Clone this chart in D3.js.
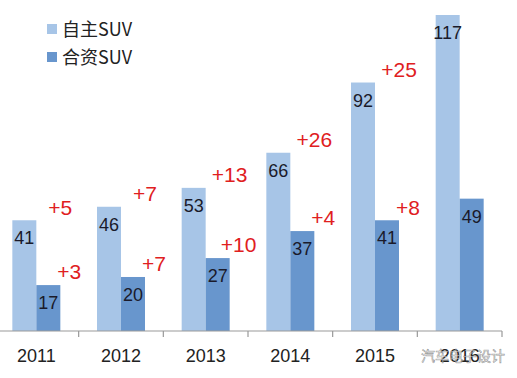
<!DOCTYPE html>
<html>
<head>
<meta charset="utf-8">
<script src="https://cdn.jsdelivr.net/npm/d3@7"></script>
<style>
  body { margin: 0; background: #fff; }
  svg { display: block; font-family: Arial, "Liberation Sans", sans-serif; }
</style>
</head>
<body>
<div id="chart"></div>
<script>
// data
var years = ['2011', '2012', '2013', '2014', '2015', '2016'];
var seriesNames = ['自主SUV', '合资SUV'];
var domestic = [41, 46, 53, 66, 92, 117];
var joint = [17, 20, 27, 37, 41, 49];

var width = 517, height = 378;
var colors = ['#a7c5e7', '#6896cd'];
var baseY = 331;

var svg = d3.select('#chart').append('svg')
    .attr('width', width)
    .attr('height', height);

var x = d3.scaleBand().domain(years).range([-6, 502]);
var y = d3.scaleLinear().domain([0, 117]).range([baseY, 15]);

var barW = 24;

// bars
var series = [domestic, joint];
series.forEach(function (vals, s) {
    var g = svg.append('g');
    g.selectAll('rect')
        .data(vals)
        .join('rect')
        .attr('x', function (d, i) { return x(years[i]) + x.bandwidth() / 2 - barW + s * barW; })
        .attr('y', function (d) { return y(d); })
        .attr('width', barW)
        .attr('height', function (d) { return baseY - y(d); })
        .style('fill', colors[s]);

    g.selectAll('text')
        .data(vals)
        .join('text')
        .attr('x', function (d, i) { return x(years[i]) + x.bandwidth() / 2 - barW / 2 + s * barW; })
        .attr('y', function (d) { return y(d) + 24; })
        .attr('text-anchor', 'middle')
        .style('font-size', '18px')
        .style('fill', '#1a1a2a')
        .text(function (d) { return d; });

    // growth labels
    var deltas = vals.slice(1).map(function (d, i) { return d - vals[i]; });
    g.selectAll('text.delta')
        .data(deltas)
        .join('text')
        .attr('class', 'delta')
        .attr('x', function (d, i) { return x(years[i]) + x.bandwidth() / 2 + (s == 0 ? 24 : 33); })
        .attr('y', function (d, i) { return y(vals[i]) - 13; })
        .attr('dy', '0.35em')
        .attr('text-anchor', 'middle')
        .style('font-size', '21px')
        .style('fill', '#e0201e')
        .text(function (d) { return '+' + d; });
});

// axis
var axis = svg.append('g')
    .attr('transform', 'translate(0,' + baseY + ')');
axis.append('line')
    .attr('x1', 0).attr('x2', 502)
    .style('stroke', '#999').style('stroke-width', 1.2);
axis.selectAll('line.tick')
    .data(years)
    .join('line')
    .attr('class', 'tick')
    .attr('x1', function (d) { return x(d) + x.bandwidth(); })
    .attr('x2', function (d) { return x(d) + x.bandwidth(); })
    .attr('y1', 0).attr('y2', 6)
    .style('stroke', '#999').style('stroke-width', 1.2);
axis.selectAll('text')
    .data(years)
    .join('text')
    .attr('x', function (d) { return x(d) + x.bandwidth() / 2; })
    .attr('y', 31)
    .attr('text-anchor', 'middle')
    .style('font-size', '18px')
    .style('fill', '#222')
    .text(function (d) { return d; });

// legend
var legend = svg.append('g');
seriesNames.forEach(function (name, i) {
    legend.append('rect')
        .attr('x', 47).attr('y', 24 + i * 28)
        .attr('width', 10).attr('height', 10)
        .style('fill', colors[i]);
    legend.append('text')
        .attr('x', 62).attr('y', 36 + i * 28)
        .style('font-family', '"Noto Sans CJK SC", sans-serif')
        .style('font-size', '18px')
        .style('fill', '#222')
        .text(name);
});

// watermark
svg.append('text')
    .attr('x', 505).attr('y', 361)
    .attr('text-anchor', 'end')
    .style('font-family', '"Noto Sans CJK SC", sans-serif')
    .style('font-size', '14px')
    .style('fill', 'rgba(255,255,255,0.6)')
    .style('stroke', 'rgba(80,80,80,0.6)')
    .style('stroke-width', 0.6)
    .text('汽车电子设计');
</script>
</body>
</html>
